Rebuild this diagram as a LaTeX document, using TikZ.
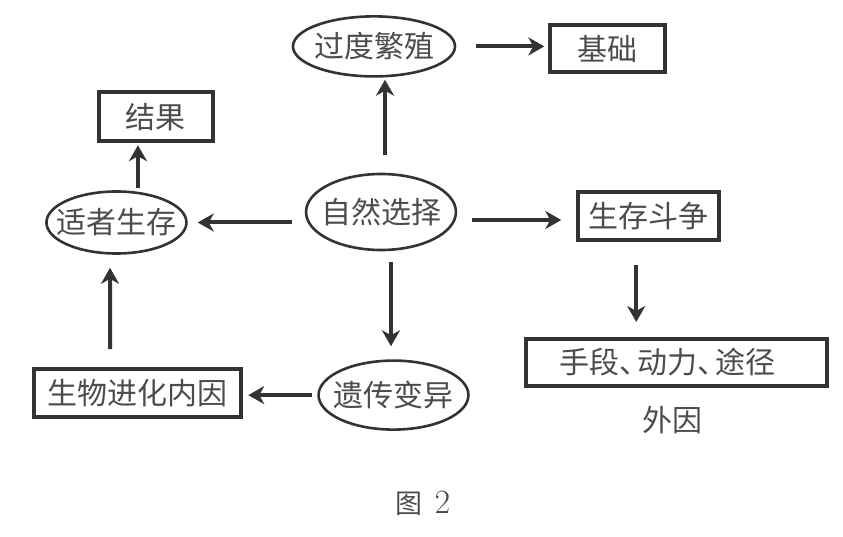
\documentclass[tikz,border=0pt]{standalone}
\usepackage{fontspec}
\newfontfamily\cjk{Noto Sans CJK SC}
\usepackage{tikz}
\usetikzlibrary{shapes.geometric}
\usetikzlibrary{positioning, arrows.meta}

\begin{document}
\begin{tikzpicture}[
        x=1pt, y=-1pt,
        every node/.style={font=\fontsize{30}{36}\selectfont\cjk, text=black!70},
        oval/.style={ellipse, draw=black!80, line width=2.6pt, inner ysep=0pt},
        block/.style={rectangle, draw=black!80, line width=4pt, inner sep=0pt},
        arrow/.style={-{Stealth[length=16pt, width=18pt, inset=5pt]}, draw=black!80, line width=4pt}
    ]
        \useasboundingbox (0,0) rectangle (843,537);

        \node[oval, inner xsep=-7pt, minimum height=76pt] (select) at (381,212) {自然选择};

        \node[oval, inner xsep=-2.7pt, minimum height=60pt, above=95pt of select, xshift=-7pt] (over) {过度繁殖};
        \node[block, minimum width=115pt, minimum height=47pt, right=92pt of over, yshift=-2.5pt] (base) {基础};

        \node[oval, inner xsep=-10.5pt, minimum height=62pt, left=117pt of select, yshift=-10.5pt] (fit) {适者生存};
        \node[block, minimum width=114pt, minimum height=49pt, above=47pt of fit, xshift=39.5pt] (result) {结果};

        \node[block, minimum width=141pt, minimum height=48pt, right=119pt of select, yshift=-4pt] (struggle) {生存斗争};
        \node[block, minimum width=301pt, minimum height=47pt, below=95pt of struggle, xshift=28pt] (means) {手段、\kern-12pt动力、\kern-12pt途径\kern18pt};
        \node[inner sep=0pt, below=18pt of means, xshift=-4.5pt] (outer) {外因};

        \node[oval, inner xsep=-7pt, minimum height=69pt, below=108pt of select, xshift=12.5pt] (vary) {遗传变异};
        \node[block, minimum width=207pt, minimum height=48pt, left=74pt of vary, yshift=2pt] (inner) {生物进化内因};

        \node[inner sep=0pt, below=60pt of vary, xshift=29.5pt, font=\fontsize{27}{32}\selectfont\cjk] (caption) {图\kern12pt\normalfont\fontsize{34}{38}\selectfont 2};

        \draw[arrow, shorten <=18pt, shorten >=2pt] ([xshift=4pt]select.north) -- ([xshift=11pt]over.south);
        \draw[arrow, shorten <=20pt, shorten >=4pt] (over.east) -- (over.east -| base.west);
        \draw[arrow, shorten <=13pt, shorten >=10pt] (select.west |- fit.east) -- (fit.east);
        \draw[arrow, shorten <=2pt, shorten >=2pt] ([xshift=21.5pt]fit.north) -- ([xshift=-18pt]result.south);
        \draw[arrow, shorten <=15pt, shorten >=15pt] ([yshift=-8pt]select.east) -- ([yshift=-4pt]struggle.west);
        \draw[arrow, shorten <=23pt, shorten >=15pt] ([xshift=-12.5pt]struggle.south) -- ([xshift=-40.5pt]means.north);
        \draw[arrow, shorten <=11pt, shorten >=13pt] ([xshift=10pt]select.south) -- ([xshift=-2.5pt]vary.north);
        \draw[arrow, shorten <=5pt, shorten >=5pt] (vary.west) -- (vary.west -| inner.east);
        \draw[arrow, shorten <=18pt, shorten >=13pt] ([xshift=-27.5pt]inner.north) -- ([xshift=-6.5pt]fit.south);
    \end{tikzpicture}
\end{document}
